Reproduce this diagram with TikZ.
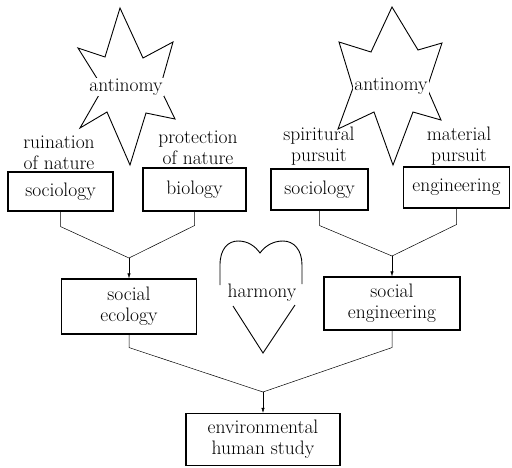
\documentclass[tikz,border=0pt]{standalone}
\usepackage{tikz}
\usetikzlibrary{arrows.meta}

\begin{document}
\begin{tikzpicture}[x=1pt,y=-1pt,>={Latex[length=5pt,width=3.2pt]},
  font=\fontsize{19.5}{21}\selectfont,line join=miter,
  unitbox/.style={draw,line width=1.1pt,align=center,inner sep=0pt},
  starline/.style={line width=0.9pt},
  link/.style={line width=0.5pt},
  lbl/.style={align=center,inner sep=1pt}]
\useasboundingbox (0,0) rectangle (512,467);
% two antinomy stars
\draw[starline] (120,8) -- (143,58) -- (173,42) -- (160,88) -- (175,119) -- (146,113)
  -- (130,165) -- (107,112) -- (80,128) -- (103,88) -- (78,48) -- (105,57) -- cycle;
\node[lbl,fill=white] (antiL) at (126,87) {antinomy};
\draw[starline] (392,7) -- (418,50) -- (442,43) -- (427,88) -- (441,120) -- (413,112)
  -- (393,165) -- (374,112) -- (338,129) -- (353,88) -- (339,42) -- (371,52) -- cycle;
\node[lbl,fill=white] (antiR) at (391,86) {antinomy};
% labels over the boxes
\node[lbl] (ruin) at (59,153) {ruination\\of nature};
\node[lbl] (prot) at (198,148) {protection\\of nature};
\node[lbl] (spir) at (319,146) {spiritural\\pursuit};
\node[lbl] (matl) at (459,146) {material\\pursuit};
% boxes
\node[unitbox,minimum width=105pt,minimum height=39pt] (soc1) at (60.5,191.5) {sociology};
\node[unitbox,minimum width=103pt,minimum height=43pt] (bio) at (194.5,189.5) {biology};
\node[unitbox,minimum width=97pt,minimum height=41pt] (soc2) at (319.5,189.5) {sociology};
\node[unitbox,minimum width=106pt,minimum height=41pt] (eng) at (456.5,187.5) {engineering};
\node[unitbox,minimum width=135pt,minimum height=55pt] (ecol) at (129,306.5) {social\\ecology};
\node[unitbox,minimum width=136pt,minimum height=53pt] (seng) at (392,303.5) {social\\engineering};
\node[unitbox,minimum width=154pt,minimum height=52pt] (env) at (263,439.5) {environmental\\human study};
% connectors
\coordinate (jl) at (129,258);
\coordinate (jr) at (392,256);
\coordinate (jb) at (263,392);
\draw[link] (soc1.south) -- ++(0,15) -- (jl);
\draw[link] (bio.south) -- ++(0,14) -- (jl);
\draw[link,->] (jl) -- (ecol.north);
\draw[link] (soc2.south) -- ++(0,15) -- (jr);
\draw[link] (eng.south) -- ++(0,16) -- (jr);
\draw[link,->] (jr) -- (seng.north);
\draw[link] (ecol.south) -- ++(0,13) -- (jb);
\draw[link] (seng.south) -- ++(0,17) -- (jb);
\draw[link,->] (jb) -- (env.north);
% harmony heart
\draw[starline] (220,285) -- (220,265) .. controls (220,249) and (228,241) .. (238,241)
  .. controls (248,241) and (255,246) .. (260,253)
  .. controls (265,246) and (273,241) .. (283,241)
  .. controls (294,241) and (302,250) .. (302,265) -- (302,284);
\draw[starline] (233,306) -- (263,353) -- (295,305);
\node[lbl] (harm) at (262,293) {harmony};
\end{tikzpicture}
\end{document}
